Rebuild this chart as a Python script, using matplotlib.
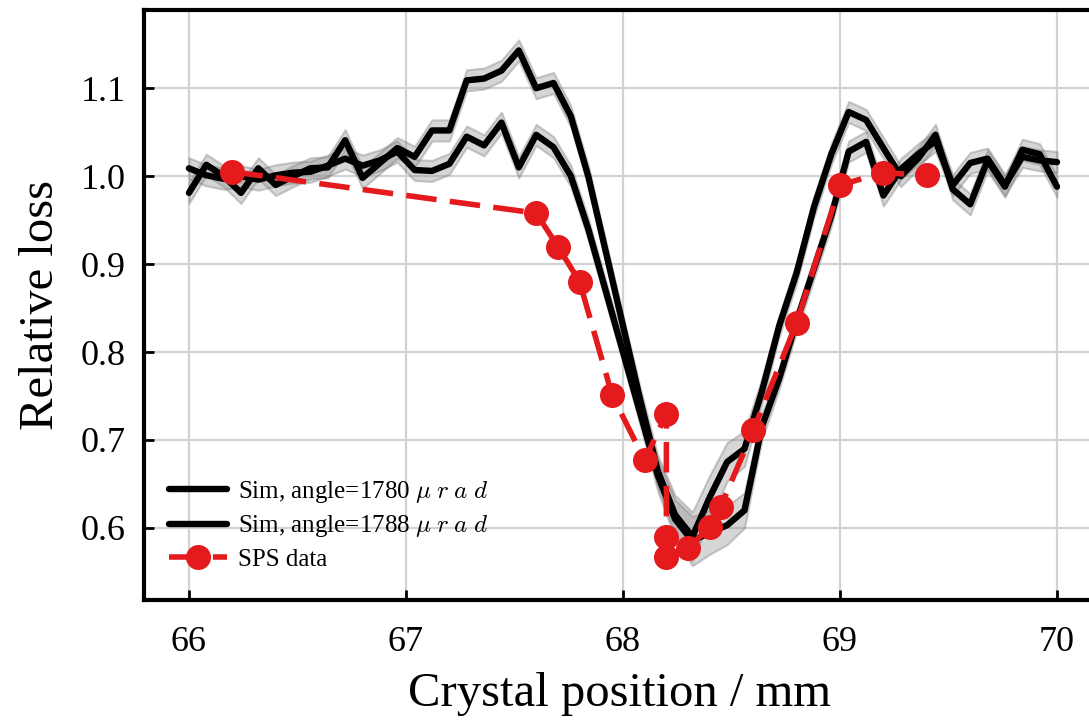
import matplotlib
matplotlib.use('Agg')
import matplotlib.pyplot as plt
import numpy as np

# ---------------- data ----------------
x_sim = [66.00, 66.08, 66.16, 66.24, 66.32, 66.40, 66.48, 66.56, 66.64, 66.72,
         66.80, 66.88, 66.96, 67.04, 67.12, 67.20, 67.28, 67.36, 67.44, 67.52,
         67.60, 67.68, 67.76, 67.84, 67.92, 68.00, 68.08, 68.16, 68.24, 68.32,
         68.40, 68.48, 68.56, 68.64, 68.72, 68.80, 68.88, 68.96, 69.04, 69.12,
         69.20, 69.28, 69.36, 69.44, 69.52, 69.60, 69.68, 69.76, 69.84, 69.92,
         70.00]

sim_1780 = [0.981, 1.013, 1.000, 0.981, 1.009, 0.990, 1.000, 1.009, 1.010, 1.041,
            0.998, 1.015, 1.032, 1.022, 1.052, 1.052, 1.109, 1.111, 1.120, 1.143,
            1.100, 1.106, 1.068, 1.000, 0.915, 0.830, 0.745, 0.665, 0.615, 0.590,
            0.635, 0.675, 0.690, 0.755, 0.830, 0.890, 0.965, 1.025, 1.073, 1.064,
            1.032, 1.000, 1.020, 1.047, 0.985, 0.968, 1.018, 0.988, 1.030, 1.025,
            0.988]

sim_1788 = [1.009, 1.001, 0.997, 1.000, 0.996, 1.001, 1.004, 1.005, 1.012, 1.020,
            1.012, 1.018, 1.028, 1.007, 1.006, 1.014, 1.045, 1.035, 1.061, 1.010,
            1.047, 1.033, 1.000, 0.940, 0.870, 0.800, 0.730, 0.660, 0.610, 0.585,
            0.595, 0.603, 0.620, 0.715, 0.770, 0.835, 0.895, 0.955, 1.028, 1.039,
            0.978, 1.008, 1.025, 1.040, 0.990, 1.015, 1.020, 0.990, 1.022, 1.018,
            1.016]

sim_err = [0.012, 0.012, 0.012, 0.012, 0.012, 0.012, 0.012, 0.012, 0.012, 0.012,
           0.012, 0.012, 0.012, 0.012, 0.012, 0.012, 0.012, 0.012, 0.012, 0.012,
           0.012, 0.012, 0.012, 0.012, 0.012, 0.012, 0.014, 0.018, 0.022, 0.028,
           0.025, 0.022, 0.020, 0.015, 0.012, 0.012, 0.012, 0.012, 0.012, 0.012,
           0.012, 0.012, 0.012, 0.012, 0.012, 0.012, 0.012, 0.012, 0.012, 0.012,
           0.012]

sps_x = [66.2, 67.6, 67.7, 67.8, 67.95, 68.1, 68.2, 68.2, 68.2, 68.3, 68.4,
         68.45, 68.6, 68.8, 69.0, 69.2, 69.4]
sps_y = [1.005, 0.958, 0.920, 0.880, 0.751, 0.677, 0.730, 0.590, 0.567, 0.577,
         0.601, 0.624, 0.711, 0.833, 0.990, 1.004, 1.001]

series_labels = [r'Sim, angle=1780 $\mu\;r\;a\;d$', r'Sim, angle=1788 $\mu\;r\;a\;d$',
                 'SPS data']
x_ticks = [66, 67, 68, 69, 70]
y_ticks = [0.6, 0.7, 0.8, 0.9, 1.0, 1.1]
x_label = 'Crystal position / mm'
y_label = 'Relative loss'

# ---------------- style ----------------
plt.rcParams['font.family'] = ['Liberation Serif', 'DejaVu Serif']
plt.rcParams['mathtext.fontset'] = 'cm'

W, H = 1089, 722
fig = plt.figure(figsize=(W / 100, H / 100), dpi=100)
ax = fig.add_axes([144 / W, 1 - 600 / H, (1095 - 144) / W, 590 / H])

band_face = (0.55, 0.55, 0.55, 0.35)
band_edge = (0.45, 0.45, 0.45, 0.35)
red = '#e41a1c'

xs = np.array(x_sim)
err = np.array(sim_err)
for ys, lab in zip([sim_1780, sim_1788], series_labels[:2]):
    ys = np.array(ys)
    ax.fill_between(xs, ys - err, ys + err, facecolor=band_face,
                    edgecolor=band_edge, linewidth=1.5, zorder=2)
    ax.plot(xs, ys, color='black', lw=4.6, label=lab, zorder=3,
            solid_capstyle='round')

ax.plot(sps_x, sps_y, color=red, lw=4.0, ls=(0, (5.5, 2.4)), marker='o',
        ms=17, mec=red, mfc=red, label=series_labels[2], zorder=5)

ax.set_xlim(65.793, 70.175)
ax.set_ylim(0.518, 1.189)
ax.set_xticks(x_ticks)
ax.set_yticks(y_ticks)
ax.set_xticklabels([str(t) for t in x_ticks])
ax.set_yticklabels(['%.1f' % t for t in y_ticks])

ax.grid(True, color='#d2d2d2', lw=1.6)
ax.set_axisbelow(True)

for s in ax.spines.values():
    s.set_linewidth(3)
ax.tick_params(direction='in', length=7, width=2, labelsize=26,
               top=False, right=False)
ax.tick_params(axis='x', pad=19)
ax.tick_params(axis='y', pad=13)

ax.set_xlabel(x_label, fontsize=35, labelpad=9)
ax.set_ylabel(y_label, fontsize=35, labelpad=13)

leg = ax.legend(loc='lower left', bbox_to_anchor=(0.008, 0.02), frameon=False,
                fontsize=18, handlelength=2.3, handletextpad=0.45,
                labelspacing=0.35, borderaxespad=0.3)

fig.savefig('out.png', dpi=100)
